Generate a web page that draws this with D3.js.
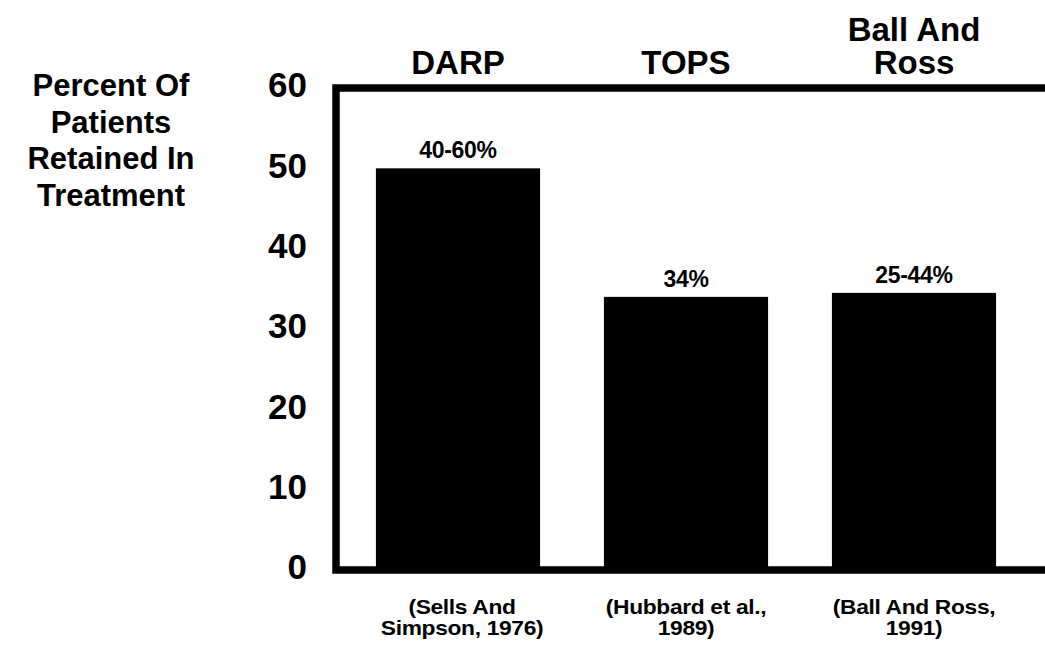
<!DOCTYPE html>
<html>
<head>
<meta charset="utf-8">
<script src="https://cdn.jsdelivr.net/npm/d3@7"></script>
<style>
  body { margin: 0; background: #fff; }
  svg { display: block; font-family: "Liberation Sans", Arial, Helvetica, sans-serif; font-weight: bold; }
</style>
</head>
<body>
<svg class="chart" width="1045" height="645"></svg>
<script>
// data
const programs = ['DARP', 'TOPS', 'Ball And Ross'];
const headers = [['DARP'], ['TOPS'], ['Ball And', 'Ross']];
const retained = [50, 34, 34.5];
const valueLabels = ['40-60%', '34%', '25-44%'];
const citations = [['(Sells And', 'Simpson, 1976)'], ['(Hubbard et al.,', '1989)'], ['(Ball And Ross,', '1991)']];
const yTicks = [0, 10, 20, 30, 40, 50, 60];
const yTitle = ['Percent Of', 'Patients', 'Retained In', 'Treatment'];

const svg = d3.select('.chart');

const x = d3.scaleBand()
  .domain(programs)
  .range([344, 1028])
  .paddingInner(0.28)
  .paddingOuter(0.14);

const y = d3.scaleLinear()
  .domain([0, 60])
  .range([570, 88]);

// bars
svg.selectAll('rect.bar')
  .data(programs)
  .enter()
  .append('rect')
  .attr('class', 'bar')
  .attr('x', d => x(d))
  .attr('y', (d, i) => y(retained[i]))
  .attr('width', x.bandwidth())
  .attr('height', (d, i) => y(0) - y(retained[i]))
  .attr('fill', '#000');

// frame (right side runs off the page)
svg.append('rect')
  .attr('x', 336)
  .attr('y', y(60))
  .attr('width', 760)
  .attr('height', y(0) - y(60))
  .attr('fill', 'none')
  .attr('stroke', '#000')
  .attr('stroke-width', 7.5);

// y axis labels
const yAxis = svg.append('g')
  .attr('transform', 'translate(307,0)')
  .call(d3.axisLeft(y).tickValues(yTicks).tickSize(0).tickPadding(0));
yAxis.select('.domain').remove();
yAxis.selectAll('text')
  .attr('font-size', 35)
  .attr('font-family', '"Liberation Sans", Arial, sans-serif')
  .attr('font-weight', 'bold')
  .attr('fill', '#000')
  .attr('dy', '0.25em');

// y title
svg.append('text')
  .attr('text-anchor', 'middle')
  .attr('font-size', 31)
  .selectAll('tspan')
  .data(yTitle)
  .enter()
  .append('tspan')
  .attr('x', 111)
  .attr('y', (d, i) => 96 + i * 36.7)
  .text(d => d);

programs.forEach((p, i) => {
  const lines = headers[i];
  const cx = x(p) + x.bandwidth() / 2;

  // header above the frame, last line on the common baseline
  svg.append('text')
    .attr('text-anchor', 'middle')
    .attr('font-size', 33)
    .selectAll('tspan')
    .data(lines)
    .enter()
    .append('tspan')
    .attr('x', cx)
    .attr('y', (d, j) => 74 - (lines.length - 1 - j) * 33)
    .text(d => d);

  // value label
  svg.append('text')
    .attr('text-anchor', 'middle')
    .attr('font-size', 23)
    .attr('letter-spacing', -0.3)
    .attr('x', cx)
    .attr('y', y(retained[i]) - 10)
    .text(valueLabels[i]);

  // citation, a little stretched like the scan
  svg.append('g')
    .attr('transform', `translate(${cx + (i === 0 ? 4 : 0)},0) scale(1.14,1)`)
    .append('text')
    .attr('text-anchor', 'middle')
    .attr('font-size', 20)
    .attr('letter-spacing', -0.3)
    .selectAll('tspan')
    .data(citations[i])
    .enter()
    .append('tspan')
    .attr('x', 0)
    .attr('y', (d, j) => 614 + j * 21)
    .text(d => d);
});
</script>
</body>
</html>
